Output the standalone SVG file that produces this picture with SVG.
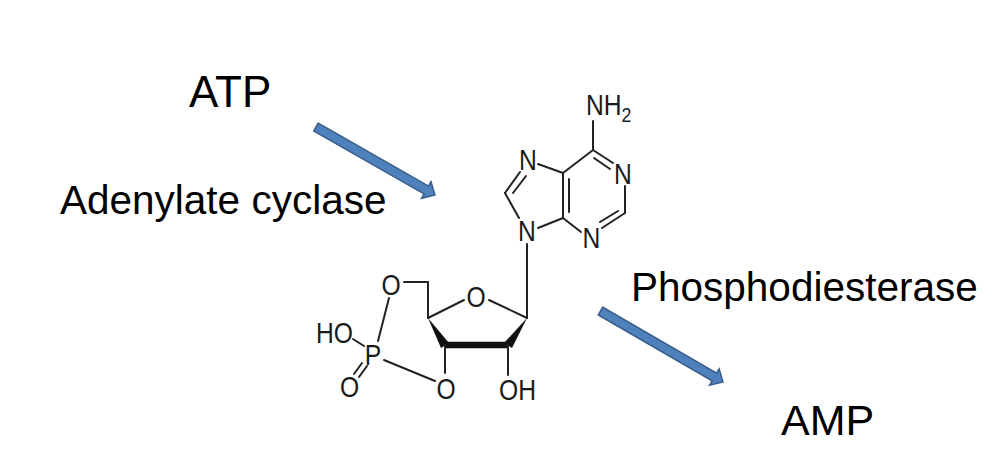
<svg xmlns="http://www.w3.org/2000/svg" width="1000" height="466" viewBox="0 0 1000 466">
<style>
.t{font-family:"Liberation Sans",Arial,sans-serif;fill:#000}
.mid{font-size:40.5px}
.a{font-size:29px;font-family:"Liberation Sans",Arial,sans-serif;fill:#1a1a1a}
.c{text-anchor:middle}
.b{stroke:#222;stroke-width:2;fill:none;stroke-linecap:round}
.arr{fill:#4F81BD;stroke:#385D8A;stroke-width:1.5;stroke-linejoin:miter}
</style>
<rect width="1000" height="466" fill="#fff"/>
<g id="labels">
<text class="t" font-size="44" x="189" y="107">ATP</text>
<text class="t mid" x="60" y="214">Adenylate cyclase</text>
<text class="t mid" x="631" y="301">Phosphodiesterase</text>
<text class="t" font-size="43" x="781" y="435">AMP</text>
</g>
<g id="connectors">
<polygon class="arr" transform="translate(316,127) rotate(29.74)" points="0,-4.5 127,-4.5 127,-9.5 137,0 127,9.5 127,4.5 0,4.5"/>
<polygon class="arr" transform="translate(600.5,311) rotate(30.1)" points="0,-4.5 131.6,-4.5 131.6,-9.5 141.6,0 131.6,9.5 131.6,4.5 0,4.5"/>
</g>
<g id="camp">
<g id="bonds">
<!-- purine -->
<line class="b" x1="563" y1="173" x2="538" y2="164"/>
<line class="b" x1="520" y1="172" x2="505" y2="193"/>
<line class="b" x1="526" y1="176" x2="513" y2="193"/>
<line class="b" x1="505" y1="193" x2="519" y2="218"/>
<line class="b" x1="538" y1="228" x2="563" y2="218"/>
<line class="b" x1="563" y1="218" x2="563" y2="173"/>
<line class="b" x1="569" y1="212" x2="569" y2="179"/>
<line class="b" x1="563" y1="173" x2="593" y2="150"/>
<line class="b" x1="593" y1="150" x2="613" y2="163"/>
<line class="b" x1="594" y1="158" x2="610" y2="169"/>
<line class="b" x1="625" y1="186" x2="625" y2="213"/>
<line class="b" x1="625" y1="213" x2="602" y2="228"/>
<line class="b" x1="618" y1="211" x2="600" y2="222"/>
<line class="b" x1="581" y1="232" x2="563" y2="218"/>
<line class="b" x1="593" y1="150" x2="593" y2="121"/>
<line class="b" x1="527" y1="244" x2="527" y2="318"/>
<!-- ribose -->
<line class="b" x1="527" y1="318" x2="489" y2="300"/>
<line class="b" x1="464" y1="300" x2="428" y2="318"/>
<line class="b" x1="428" y1="318" x2="428" y2="282"/>
<line class="b" x1="428" y1="282" x2="404" y2="282"/>
<polygon fill="#111" points="428,318 441,348 449,343"/>
<line stroke="#111" stroke-width="6.5" x1="445" y1="345" x2="508" y2="345"/>
<polygon fill="#111" points="527,318 504,343 512,348"/>
<line class="b" x1="445" y1="345" x2="445" y2="373"/>
<line class="b" x1="508" y1="345" x2="508" y2="375"/>
<!-- phosphate -->
<line class="b" x1="389" y1="298" x2="378" y2="341"/>
<line class="b" x1="353" y1="339" x2="364" y2="346"/>
<line class="b" x1="367" y1="366" x2="359" y2="377"/>
<line class="b" x1="362" y1="363" x2="354" y2="374"/>
<line class="b" x1="384" y1="360" x2="435" y2="381"/>
</g>
<g id="atoms">
<text class="a" transform="translate(586,115) scale(0.85,1)">NH<tspan font-size="21" dy="7">2</tspan></text>
<text class="a c" transform="translate(528,170) scale(0.85,1)">N</text>
<text class="a c" transform="translate(623,184) scale(0.85,1)">N</text>
<text class="a c" transform="translate(527,241) scale(0.85,1)">N</text>
<text class="a c" transform="translate(591.5,248) scale(0.85,1)">N</text>
<text class="a c" transform="translate(476,307) scale(0.85,1)">O</text>
<text class="a c" transform="translate(391,295) scale(0.85,1)">O</text>
<text class="a c" transform="translate(373,365) scale(0.85,1)">P</text>
<text class="a" transform="translate(316,343) scale(0.85,1)">HO</text>
<text class="a c" transform="translate(349.5,397) scale(0.85,1)">O</text>
<text class="a c" transform="translate(446,399) scale(0.85,1)">O</text>
<text class="a" transform="translate(499,400) scale(0.85,1)">OH</text>
</g>
</g>
</svg>
